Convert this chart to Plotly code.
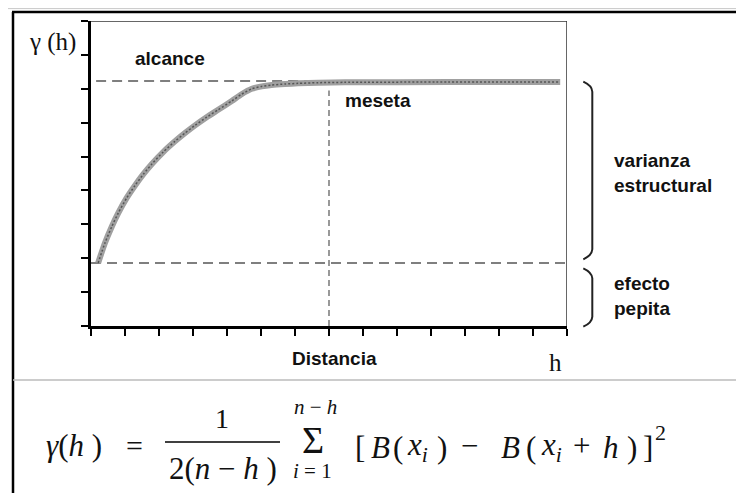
import plotly.graph_objects as go

# variograma teorico: valores
h_vals = [0.21, 0.41, 0.61, 0.80, 1.05, 1.29, 1.54, 1.79, 2.13, 2.47, 2.76,
          3.06, 3.40, 3.74, 4.14, 4.43, 4.73, 5.02, 5.31, 5.71, 6.09, 6.68, 7.47,
          10.5, 13.8]
gamma_vals = [1.86, 2.45, 2.93, 3.33, 3.78, 4.14, 4.48, 4.78, 5.14, 5.45, 5.69,
              5.92, 6.16, 6.38, 6.64, 6.84, 7.00, 7.07, 7.11, 7.14, 7.16, 7.18, 7.19,
              7.2, 7.2]
nugget = 1.86      # efecto pepita
sill = 7.23        # meseta
range_h = 7        # alcance
x_max = 14
y_max = 9

# la pagina tiene 8px de margen, asi que la figura es algo mas pequeña
OX, OY = 8, 8
W, H = 736, 485

# pixel de la imagen -> paper
def px(x):
    return (x - OX) / W

def py(y):
    return 1 - (y - OY) / H

fig = go.Figure()

# curva gruesa gris con textura
fig.add_trace(go.Scatter(x=h_vals, y=gamma_vals, mode="lines",
                         line=dict(color="#a0a0a0", width=6, shape="spline", smoothing=0.6),
                         hoverinfo="skip"))
fig.add_trace(go.Scatter(x=h_vals, y=gamma_vals, mode="lines",
                         line=dict(color="#555555", width=1.5, dash="2px,2px",
                                   shape="spline", smoothing=0.6),
                         hoverinfo="skip"))

shapes = []
# lineas discontinuas
shapes.append(dict(type="line", xref="x", yref="y", x0=0.15, x1=range_h, y0=sill, y1=sill,
                   line=dict(color="#555", width=1.5, dash="10px,6px"), layer="below"))
shapes.append(dict(type="line", xref="x", yref="y", x0=0, x1=x_max, y0=nugget, y1=nugget,
                   line=dict(color="#555", width=1.5, dash="10px,6px"), layer="below"))
shapes.append(dict(type="line", xref="x", yref="y", x0=range_h, x1=range_h, y0=0, y1=6.95,
                   line=dict(color="#555", width=1.2, dash="6px,4px"), layer="below"))
# borde superior y derecho del grafico
shapes.append(dict(type="line", xref="x", yref="y", x0=0, x1=x_max, y0=y_max, y1=y_max,
                   line=dict(color="#333", width=1.5)))
shapes.append(dict(type="line", xref="x", yref="y", x0=x_max, x1=x_max, y0=0, y1=y_max,
                   line=dict(color="#333", width=1.5)))

# marco de la imagen
shapes.append(dict(type="line", xref="paper", yref="paper", x0=0, x1=1, y0=py(8.6), y1=py(8.6),
                   line=dict(color="#c8c8c8", width=1)))
shapes.append(dict(type="line", xref="paper", yref="paper", x0=px(12), x1=1, y0=py(12), y1=py(12),
                   line=dict(color="black", width=2.5)))
shapes.append(dict(type="line", xref="paper", yref="paper", x0=px(13), x1=px(13), y0=py(12), y1=0,
                   line=dict(color="black", width=2.5)))
shapes.append(dict(type="line", xref="paper", yref="paper", x0=px(13), x1=1, y0=py(380), y1=py(380),
                   line=dict(color="#bbbbbb", width=1.5)))
# barra de la fraccion
shapes.append(dict(type="line", xref="paper", yref="paper", x0=px(165), x1=px(280), y0=py(442), y1=py(442),
                   line=dict(color="black", width=1.5)))

# llaves a la derecha
def brace(y_top, y_bot):
    pts = [(583.3, y_top), (592, y_top + 4), (592.3, y_top + 10),
           (592.3, y_bot - 10), (592, y_bot - 4), (583.3, y_bot)]
    p = [(px(a), py(b)) for a, b in pts]
    return ("M %f,%f Q %f,%f %f,%f L %f,%f Q %f,%f %f,%f" %
            (p[0][0], p[0][1], p[1][0], p[1][1], p[2][0], p[2][1],
             p[3][0], p[3][1], p[4][0], p[4][1], p[5][0], p[5][1]))

shapes.append(dict(type="path", xref="paper", yref="paper", path=brace(81.7, 259.3),
                   line=dict(color="#222", width=2)))
shapes.append(dict(type="path", xref="paper", yref="paper", path=brace(268.3, 326.7),
                   line=dict(color="#222", width=2)))

sans = "Liberation Sans, Arial, sans-serif"
serif = "Liberation Serif, Times New Roman, serif"

def label(text, x, y, size=18, family=sans, xanchor="left", color="#111"):
    return dict(text=text, x=px(x), y=py(y), xref="paper", yref="paper",
                xanchor=xanchor, yanchor="middle", align="left", showarrow=False,
                font=dict(family=family, size=size, color=color))

annotations = [
    label("γ (h)", 27, 42, size=25, family=serif),
    label("<b>alcance</b>", 133, 59, size=19),
    label("<b>meseta</b>", 343, 100, size=19),
    label("<b>varianza<br>estructural</b>", 612, 173, size=19),
    label("<b>efecto<br>pepita</b>", 612, 296, size=19),
    label("<b>Distancia</b>", 290, 358, size=19),
    label("h", 555, 362, size=25, family=serif, xanchor="center"),
    # formula
    label("<i>γ</i>(<i>h</i> )", 44, 445, size=31, family=serif),
    label("=", 135, 445, size=30, family=serif, xanchor="center"),
    label("1", 222, 418, size=28, family=serif, xanchor="center"),
    label("2(<i>n</i> − <i>h</i> )", 223, 468, size=31, family=serif, xanchor="center"),
    label("Σ", 313, 440, size=38, family=serif, xanchor="center"),
    label("<i>n</i> − <i>h</i>", 315, 407, size=21, family=serif, xanchor="center"),
    label("<i>i</i> = 1", 312, 471, size=21, family=serif, xanchor="center"),
]

# [B(x_i) - B(x_i + h)]^2, pieza a pieza
bracket = [("[", 360), ("<i>B</i>", 381), ("(", 398), ("<i>x<sub>i</sub></i>", 417),
           (")", 442), ("−", 469), ("<i>B</i>", 510), ("(", 531),
           ("<i>x<sub>i</sub></i>", 551), ("+", 581), ("<i>h</i>", 611), (")", 632), ("]", 648)]
for txt, xc in bracket:
    yc = 445 if txt in ("−", "+") else 447
    annotations.append(label(txt, xc, yc, size=31, family=serif, xanchor="center"))
annotations.append(label("2", 660, 432, size=22, family=serif, xanchor="center"))

fig.update_layout(
    width=W, height=H,
    margin=dict(l=0, r=0, t=0, b=0),
    paper_bgcolor="white", plot_bgcolor="white",
    showlegend=False,
    shapes=shapes,
    annotations=annotations,
    xaxis=dict(domain=[px(91), px(567)], range=[0, x_max], showgrid=False, zeroline=False,
               showline=True, linecolor="black", linewidth=3,
               ticks="outside", ticklen=7, tickwidth=2, tickcolor="black",
               tick0=0, dtick=1, showticklabels=False, fixedrange=True),
    yaxis=dict(domain=[py(326), py(21)], range=[0, y_max], showgrid=False, zeroline=False,
               showline=True, linecolor="black", linewidth=3,
               ticks="outside", ticklen=7, tickwidth=2, tickcolor="black",
               tick0=0, dtick=1, showticklabels=False, fixedrange=True),
)

fig.write_html("out.html")
